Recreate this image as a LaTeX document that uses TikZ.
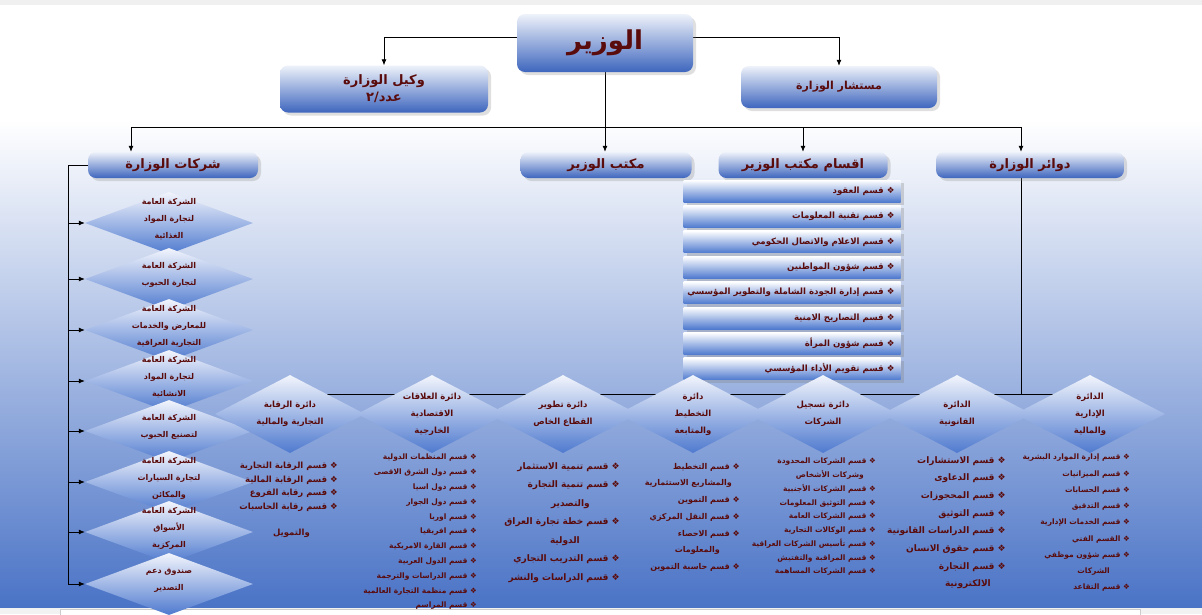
\documentclass[tikz,border=0pt]{standalone}
\usepackage{fontspec}
\usepackage{tikz}
\usetikzlibrary{arrows.meta,shapes.geometric,shadows}
\newfontfamily\arfont[Script=Arabic]{DejaVu Sans}
\newfontfamily\symfont{DejaVu Sans}
\TeXXeTstate=1
\newcommand{\ar}[1]{\beginR #1\endR}
\newcommand{\itm}{{\symfont\mdseries\char"2756}\ }
\definecolor{inkred}{HTML}{5A0B0B}
\definecolor{deepblue}{HTML}{3E66BE}
\definecolor{midblue}{HTML}{A9BFEA}
\definecolor{paleblue}{HTML}{EEF2FA}
\definecolor{bgblue}{HTML}{4A73C6}
\definecolor{bgmid}{HTML}{C9D6EF}
\definecolor{diablue}{HTML}{4F7ACF}
\definecolor{diapale}{HTML}{F2F5FC}
\pgfdeclarelayer{back}
\pgfdeclarelayer{wires}
\pgfsetlayers{back,wires,main}

\begin{document}
\begin{tikzpicture}[x=1pt,y=-1pt,
  box/.style={rounded corners=8pt,top color=paleblue,middle color=midblue,bottom color=deepblue,
    drop shadow={opacity=0.25,shadow xshift=3pt,shadow yshift=-3pt},
    text=inkred,align=center,inner sep=0pt},
  head/.style={box,minimum height=26pt,font=\arfont\bfseries\fontsize{13}{15}\selectfont},
  arrow/.style={-{Latex[length=6pt,width=5pt]},line width=0.8pt},
  wire/.style={line width=0.8pt},
  firm/.style={diamond,minimum width=168pt,minimum height=62pt,inner sep=0pt,
    top color=diapale,bottom color=diablue},
  dept/.style={diamond,minimum width=150pt,minimum height=78pt,inner sep=0pt,
    top color=diapale,bottom color=diablue},
  dtext/.style={text=inkred,align=center,inner sep=0pt,font=\arfont\bfseries\fontsize{8.5}{17}\selectfont},
  banner/.style={minimum width=217pt,minimum height=22pt,inner sep=0pt,
    top color=white,bottom color=diablue,
    drop shadow={opacity=0.3,shadow xshift=3pt,shadow yshift=-3pt}},
  btext/.style={anchor=east,text=inkred,inner sep=0pt,font=\arfont\bfseries\fontsize{8.6}{11}\selectfont},
  lst/.style 2 args={anchor=north east,align=right,text=inkred,inner sep=0pt,
    font=\arfont\bfseries\fontsize{#1}{#2}\selectfont}
]
\useasboundingbox (0,0) rectangle (1202,614);
\begin{pgfonlayer}{back}
\fill[white] (0,0) rectangle (1202,614);
\fill[gray!12] (0,0) rectangle (1202,5);
\fill[top color=white,middle color=bgmid,bottom color=bgblue] (0,120) rectangle (1202,608);
\fill[gray!10] (0,608) rectangle (1202,614);
\filldraw[fill=white,draw=gray!40] (60,609) rectangle (1140,616);
\end{pgfonlayer}

% top of the ministry
\node[box,minimum width=176pt,minimum height=58pt,font=\arfont\bfseries\fontsize{26}{30}\selectfont] (minister) at (605,43) {\ar{الوزير}};
\node[box,minimum width=208pt,minimum height=47pt,font=\arfont\bfseries\fontsize{13}{17}\selectfont] (deputy) at (384,89) {\ar{وكيل الوزارة}\\\ar{عدد/٢}};
\node[box,minimum width=196pt,minimum height=42pt,font=\arfont\bfseries\fontsize{11}{13}\selectfont] (advisor) at (839,87) {\ar{مستشار الوزارة}};

\node[head,minimum width=170pt] (companies) at (173,165) {\ar{شركات الوزارة}};
\node[head,minimum width=171pt] (office) at (606,165) {\ar{مكتب الوزير}};
\node[head,minimum width=169pt] (sections) at (803,165) {\ar{اقسام مكتب الوزير}};
\node[head,minimum width=188pt] (directorates) at (1030,165) {\ar{دوائر الوزارة}};

% sections of the minister's office
\foreach \txt [count=\i from 0] in {قسم العقود, قسم تقنية المعلومات, قسم الاعلام والاتصال الحكومي, قسم شؤون المواطنين, قسم إدارة الجودة الشاملة والتطوير المؤسسي, قسم التصاريح الامنية, قسم شؤون المرأة, قسم تقويم الأداء المؤسسي}
{
  \node[banner] (b\i) at (792,{191+25.4*\i}) {};
  \node[btext] (bt\i) at ([xshift=-6pt]b\i.east) {\ar{\itm\txt}};
}

% companies
\foreach \y/\txt [count=\i] in {
  223/{\ar{الشركة العامة}\\\ar{لتجارة المواد}\\\ar{الغذائية}},
  279/{\ar{الشركة العامة}\\\ar{لتجارة الحبوب}},
  330/{\ar{الشركة العامة}\\\ar{للمعارض والخدمات}\\\ar{التجارية العراقية}},
  381/{\ar{الشركة العامة}\\\ar{لتجارة المواد}\\\ar{الانشائية}},
  431/{\ar{الشركة العامة}\\\ar{لتصنيع الحبوب}},
  482/{\ar{الشركة العامة}\\\ar{لتجارة السيارات}\\\ar{والمكائن}},
  532/{\ar{الشركة العامة}\\\ar{الأسواق}\\\ar{المركزية}},
  584/{\ar{صندوق دعم}\\\ar{التصدير}}}
{
  \node[firm] (c\i) at (169,\y) {};
  \node[dtext,font=\arfont\bfseries\fontsize{8}{17}\selectfont] (ct\i) at ([yshift=4pt]c\i) {\txt};
}

% directorates
\foreach \x/\txt [count=\i] in {
  290/{\ar{دائرة الرقابة}\\\ar{التجارية والمالية}},
  432/{\ar{دائرة العلاقات}\\\ar{الاقتصادية}\\\ar{الخارجية}},
  563/{\ar{دائرة تطوير}\\\ar{القطاع الخاص}},
  693/{\ar{دائرة}\\\ar{التخطيط}\\\ar{والمتابعة}},
  823/{\ar{دائرة تسجيل}\\\ar{الشركات}},
  957/{\ar{الدائرة}\\\ar{القانونية}},
  1090/{\ar{الدائرة}\\\ar{الإدارية}\\\ar{والمالية}}}
{
  \node[dept] (d\i) at (\x,414) {};
  \node[dtext] (dt\i) at (d\i) {\txt};
}

\node[lst={8.5}{13.5}] (l1) at (338,462) {\ar{\itm قسم الرقابة التجارية}\\\ar{\itm قسم الرقابة المالية}\\\ar{\itm قسم رقابة الفروع}\\\ar{\itm قسم رقابة الحاسبات}\\[13pt]\ar{والتمويل}\kern28pt};
\node[lst={7.5}{14.8}] (l2) at (477,454) {\ar{\itm قسم المنظمات الدولية}\\\ar{\itm قسم دول الشرق الاقصى}\\\ar{\itm قسم دول اسيا}\\\ar{\itm قسم دول الجوار}\\\ar{\itm قسم اوربا}\\\ar{\itm قسم افريقيا}\\\ar{\itm قسم القارة الامريكية}\\\ar{\itm قسم الدول العربية}\\\ar{\itm قسم الدراسات والترجمة}\\\ar{\itm قسم منظمة التجارة العالمية}\\\ar{\itm قسم المراسم}};
\node[lst={9}{18.5}] (l3) at (620,462) {\ar{\itm قسم تنمية الاستثمار}\\\ar{\itm قسم تنمية التجارة}\\\ar{والتصدير}\kern30pt\\\ar{\itm قسم خطة تجارة العراق}\\\ar{الدولية}\kern40pt\\\ar{\itm قسم التدريب التجاري}\\\ar{\itm قسم الدراسات والنشر}};
\node[lst={8}{16.7}] (l4) at (740,463) {\ar{\itm قسم التخطيط}\\\ar{والمشاريع الاستثمارية}\kern8pt\\\ar{\itm قسم التموين}\\\ar{\itm قسم النقل المركزي}\\\ar{\itm قسم الاحصاء}\\\ar{والمعلومات}\kern20pt\\\ar{\itm قسم حاسبة التموين}};
\node[lst={7.5}{13.75}] (l5) at (876,458) {\ar{\itm قسم الشركات المحدودة}\\\ar{وشركات الأشخاص}\kern12pt\\\ar{\itm قسم الشركات الأجنبية}\\\ar{\itm قسم التوثيق المعلومات}\\\ar{\itm قسم الشركات العامة}\\\ar{\itm قسم الوكالات التجارية}\\\ar{\itm قسم تأسيس الشركات العراقية}\\\ar{\itm قسم المراقبة والتفتيش}\\\ar{\itm قسم الشركات المساهمة}};
\node[lst={9}{17.7}] (l6) at (1006,456) {\ar{\itm قسم الاستشارات}\\\ar{\itm قسم الدعاوى}\\\ar{\itm قسم المحجوزات}\\\ar{\itm قسم التوثيق}\\\ar{\itm قسم الدراسات القانونية}\\\ar{\itm قسم حقوق الانسان}\\\ar{\itm قسم التجارة}\\\ar{الالكترونية}\kern15pt};
\node[lst={7.5}{16.25}] (l7) at (1130,454) {\ar{\itm قسم إدارة الموارد البشرية}\\\ar{\itm قسم الميزانيات}\\\ar{\itm قسم الحسابات}\\\ar{\itm قسم التدقيق}\\\ar{\itm قسم الخدمات الإدارية}\\\ar{\itm القسم الفني}\\\ar{\itm قسم شؤون موظفي}\\\ar{الشركات}\kern20pt\\\ar{\itm قسم التقاعد}};

\begin{pgfonlayer}{wires}
\draw[arrow] ([yshift=6pt]minister.west) -| (deputy.north);
\draw[arrow] ([yshift=6pt]minister.east) -| (advisor.north);
\draw[arrow] (minister.south) -- (minister.south |- office.north);
\coordinate (busL) at (131,127);
\coordinate (busR) at (1021,127);
\draw[wire] (busL) -- (busR);
\draw[arrow] (busL) -- (busL |- companies.north);
\draw[arrow] (sections.north |- busL) -- (sections.north);
\draw[arrow] (busR) -- (busR |- directorates.north);
\coordinate (colB) at (68,584);
\draw[wire] (companies.west) -| (colB);
\foreach \i in {1,...,8}
  \draw[arrow] (colB |- c\i) -- (c\i.west);
\coordinate (lowbus) at (0,394);
\draw[wire] (d1 |- lowbus) -- (d7 |- lowbus);
\draw[wire] (busR |- directorates.south) -- (busR |- lowbus);
\end{pgfonlayer}
\end{tikzpicture}
\end{document}
